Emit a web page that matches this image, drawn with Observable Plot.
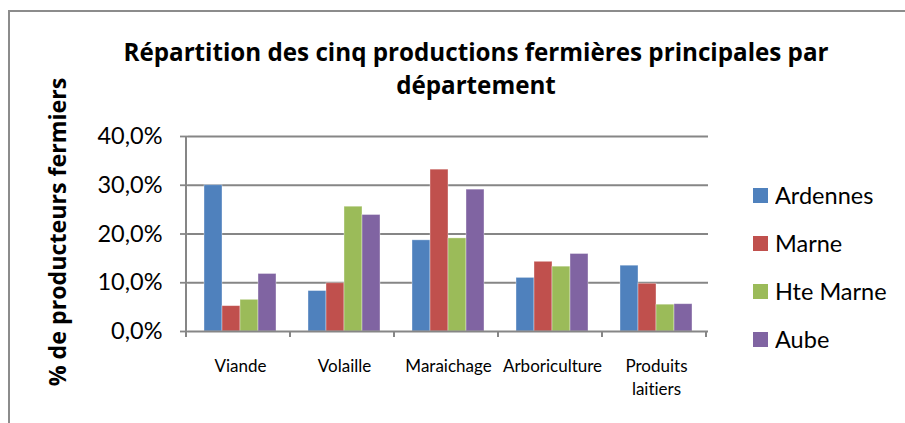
<!DOCTYPE html>
<html><head><meta charset="utf-8">
<script src="https://cdn.jsdelivr.net/npm/d3@7"></script>
<script src="https://cdn.jsdelivr.net/npm/@observablehq/plot@0.6"></script>
<style>
body{margin:0;background:#fff;}
#wrap{position:relative;width:905px;height:423px;overflow:hidden;font-family:Lato,"Open Sans",sans-serif;color:#000;font-variant-ligatures:none;}
#border{position:absolute;left:8px;top:10px;width:940px;height:460px;border:2px solid #8c8c8c;box-sizing:border-box;}
#title{position:absolute;left:76px;width:800px;top:35px;text-align:center;font-family:"Open Sans",sans-serif;font-weight:bold;font-size:24.2px;line-height:33px;}
#ytitle{position:absolute;left:-143px;width:400px;top:219px;height:26px;line-height:26px;text-align:center;font-family:"Open Sans",sans-serif;font-weight:bold;font-size:23.2px;transform:rotate(-90deg);transform-origin:50% 50%;white-space:nowrap;}
#chart{position:absolute;left:0;top:0;}
#legend{position:absolute;left:753px;top:171px;}
svg text{font-variant-ligatures:none;}
</style></head><body>
<div id="wrap"><div id="border"></div><div id="chart"></div><div id="title"></div><div id="ytitle"></div><div id="legend"></div></div>
<script>
const categories = ["Viande", "Volaille", "Maraichage", "Arboriculture", "Produits laitiers"];
const categoryLabels = ["Viande", "Volaille", "Maraichage", "Arboriculture", "Produits\nlaitiers"];
const series = ["Ardennes", "Marne", "Hte Marne", "Aube"];
const ardennes = [30.0, 8.3, 18.7, 11.0, 13.5];
const marne = [5.2, 9.9, 33.2, 14.3, 9.8];
const hteMarne = [6.5, 25.6, 19.1, 13.3, 5.5];
const aube = [11.8, 23.9, 29.1, 15.9, 5.6];
const colors = ["#4F81BD", "#C0504D", "#9BBB59", "#8064A2"];
const yTicks = [0, 10, 20, 30, 40];
const yTickLabels = ["0,0%", "10,0%", "20,0%", "30,0%", "40,0%"];
const titleLines = ["Répartition des cinq productions fermières principales par", "département"];
const yTitle = "% de producteurs fermiers";

const seriesValues = [ardennes, marne, hteMarne, aube];
const data = categories.flatMap((c, i) => series.map((s, j) => ({category: c, series: s, value: seriesValues[j][i]})));

const W = 905, H = 423;
const gray = "#868686";
const chart = Plot.plot({
  width: W, height: H,
  marginLeft: 186, marginRight: 195, marginTop: 136, marginBottom: 92,
  style: {fontFamily: "Lato, 'Open Sans', sans-serif", color: "#000", background: "transparent", overflow: "visible"},
  fx: {domain: categories, padding: 0, label: null},
  x: {domain: series, paddingInner: 0, paddingOuter: 0.785, axis: null},
  y: {domain: [0, 40], axis: null},
  color: {domain: series, range: colors},
  marks: [
    Plot.gridY(yTicks.slice(1), {stroke: gray, strokeOpacity: 1, strokeWidth: 1.8}),
    Plot.barY(data, {fx: "category", x: "series", y: "value", fill: "series", stroke: "#fff", strokeOpacity: 0.45, strokeWidth: 0.8}),
    Plot.ruleY([0], {stroke: gray, strokeWidth: 2}),
    Plot.axisY({ticks: yTicks, tickFormat: d => yTickLabels[yTicks.indexOf(d)], tickSize: 8, tickPadding: 18, fontSize: 23.5, label: null, stroke: gray, strokeWidth: 1.8, fill: "#000"}),
    Plot.axisFx({anchor: "bottom", tickFormat: d => categoryLabels[categories.indexOf(d)], tickSize: 0, tickPadding: 24, fontSize: 17, label: null, lineHeight: 1.35, fill: "#000"})
  ]
});
document.getElementById("chart").appendChild(chart);
d3.select(chart).selectAll('g[aria-label="y-axis tick label"]').attr("font-size", 23.5);
d3.select(chart).selectAll('g[aria-label="fx-axis tick label"]').attr("font-size", 17);

// Category-boundary tick marks and the vertical value axis line, from the scales
const fxs = chart.scale("fx");
const ys = chart.scale("y");
const y0 = Math.max(...ys.range), yTop = Math.min(...ys.range);
const g = d3.select(chart).append("g").attr("stroke", gray).attr("stroke-width", 2);
const left = fxs.range[0];
const bounds = d3.range(categories.length + 1).map(i => left + i * fxs.step);
g.selectAll("line.b").data(bounds).join("line").attr("class", "b")
  .attr("x1", d => d).attr("x2", d => d).attr("y1", y0).attr("y2", y0 + 6);
g.append("line").attr("x1", left).attr("x2", left).attr("y1", yTop).attr("y2", y0 + 6);

// Title and axis title
document.getElementById("title").innerHTML = titleLines.join("<br>");
document.getElementById("ytitle").textContent = yTitle;

// Legend from the color scale
const leg = chart.legend("color", {legend: "swatches", columns: 1, swatchSize: 15});
leg.style.fontFamily = "Lato, 'Open Sans', sans-serif";
leg.style.fontSize = "23.5px";
leg.style.margin = "0";
leg.querySelectorAll(":scope > div").forEach(d => { d.style.height = "48px"; d.style.lineHeight = "48px"; d.style.paddingBottom = "0"; d.style.marginBottom = "0"; d.style.display = "flex"; d.style.alignItems = "center"; });
leg.querySelectorAll("svg").forEach(s => { s.style.marginRight = "7px"; });
document.getElementById("legend").appendChild(leg);
</script>
</body></html>
